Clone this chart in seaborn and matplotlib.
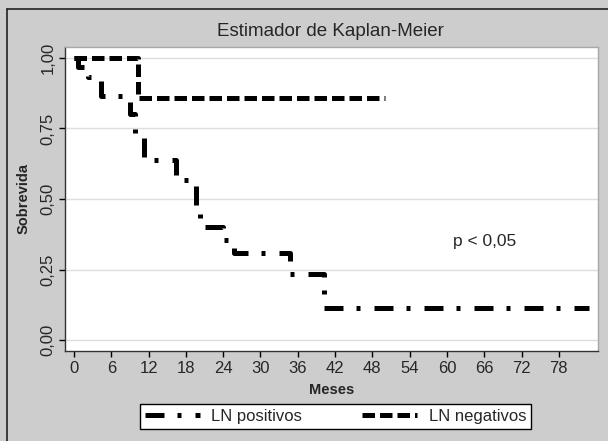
import matplotlib
matplotlib.use("Agg")
import matplotlib.pyplot as plt
from matplotlib.lines import Line2D
import seaborn as sns
import pandas as pd

# ---- data ----
pos_months = [0, 0.7, 2.3, 4.3, 9.0, 9.8, 11.2, 16.4, 19.6, 20.2, 24.0, 25.8, 34.7, 40.2, 82.8]
pos_surv = [1.0, 0.967, 0.933, 0.867, 0.80, 0.733, 0.64, 0.567, 0.467, 0.40, 0.355, 0.31, 0.234, 0.113, 0.113]
neg_months = [0, 10.3, 50.0]
neg_surv = [1.0, 0.857, 0.857]
x_ticks = [0, 6, 12, 18, 24, 30, 36, 42, 48, 54, 60, 66, 72, 78]
y_ticks = [0.0, 0.25, 0.5, 0.75, 1.0]
y_tick_labels = ["0,00", "0,25", "0,50", "0,75", "1,00"]
series_labels = ["LN positivos", "LN negativos"]

sns.set_style("white")
plt.rcParams["font.family"] = ["Liberation Sans", "DejaVu Sans"]

W, H = 608, 441
fig = plt.figure(figsize=(W / 100, H / 100), dpi=100)
fig.patch.set_facecolor("#cdcdcd")

# outer frame (top and left border lines)
fig.add_artist(Line2D([7 / W, 7 / W], [0, 1 - 9 / H], color="#222222", lw=1.2, transform=fig.transFigure))
fig.add_artist(Line2D([7 / W, 1], [1 - 9 / H, 1 - 9 / H], color="#222222", lw=1.2, transform=fig.transFigure))

left, right, top, bottom = 65, 598, 47, 351
ax = fig.add_axes([left / W, 1 - bottom / H, (right - left) / W, (bottom - top) / H])
ax.set_facecolor("white")

pos_df = pd.DataFrame({"Meses": pos_months, "Sobrevida": pos_surv})
neg_df = pd.DataFrame({"Meses": neg_months, "Sobrevida": neg_surv})

lw = 3.6
sns.lineplot(data=pos_df, x="Meses", y="Sobrevida", drawstyle="steps-post", color="black",
             lw=lw, estimator=None, sort=False, ax=ax)
sns.lineplot(data=neg_df, x="Meses", y="Sobrevida", drawstyle="steps-post", color="black",
             lw=lw, estimator=None, sort=False, ax=ax)
pos_line, neg_line = ax.lines[0], ax.lines[1]
pos_dash = (0, (3.8, 2.6, 0.8, 2.8))
neg_dash = (0, (2.5, 1.0))
pos_line.set_linestyle(pos_dash)
neg_line.set_linestyle(neg_dash)
for ln in (pos_line, neg_line):
    ln.set_dash_capstyle("butt")
    ln.set_solid_joinstyle("miter")

ax.set_xlim(-1.45, 84.3)
ax.set_ylim(-0.039, 1.039)
ax.set_xticks(x_ticks)
ax.set_xticklabels([str(v) for v in x_ticks], fontsize=12)
ax.set_yticks(y_ticks)
ax.set_yticklabels(y_tick_labels, fontsize=12, rotation=90, va="center")
ax.tick_params(axis="both", direction="out", length=4, width=1, color="black", pad=3,
               left=True, bottom=True)
ax.yaxis.grid(True, color="#dedede", lw=1)
ax.xaxis.grid(False)
ax.set_axisbelow(True)
for s in ("left", "bottom"):
    ax.spines[s].set_color("#333333")
    ax.spines[s].set_linewidth(1)
for s in ("top", "right"):
    ax.spines[s].set_color("#a8a8a8")
    ax.spines[s].set_linewidth(1)

ax.set_xlabel("Meses", fontsize=10.5, fontweight="bold", labelpad=5)
ax.set_ylabel("Sobrevida", fontsize=10.5, fontweight="bold", labelpad=7)

ax.text(61, 0.35, "p < 0,05", fontsize=12.5, ha="left", va="center")

fig.text(330 / W, 1 - 31 / H, "Estimador de Kaplan-Meier", fontsize=13.5, ha="center", va="center")

handles = [Line2D([], [], color="black", lw=lw, linestyle=pos_dash, dash_capstyle="butt"),
           Line2D([], [], color="black", lw=lw, linestyle=neg_dash, dash_capstyle="butt")]
leg = fig.legend(handles, series_labels, loc="center", bbox_to_anchor=(335.5 / W, 1 - 416 / H),
                 ncol=2, fontsize=12, frameon=True, fancybox=False, framealpha=1,
                 handlelength=3.3, handletextpad=0.7, columnspacing=3.6, borderpad=0.3)
leg.get_frame().set_edgecolor("black")
leg.get_frame().set_linewidth(1.0)
leg.get_frame().set_facecolor("white")

fig.savefig("out.png", dpi=100, facecolor=fig.get_facecolor())
